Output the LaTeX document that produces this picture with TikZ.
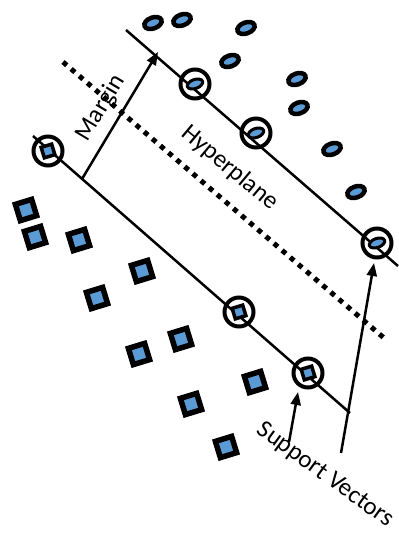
\documentclass[tikz,border=0pt]{standalone}
\usepackage{fontspec}
\setmainfont{Carlito}
\usetikzlibrary{arrows.meta,shapes.geometric}
\definecolor{ptblue}{HTML}{5B9BD5}
\tikzset{
  ell/.style={ellipse,draw=black,fill=ptblue,line width=4.5pt,minimum width=18pt,minimum height=11pt,inner sep=0pt,rotate=20},
  sell/.style={ellipse,draw=black,fill=ptblue,line width=3pt,minimum width=16pt,minimum height=9pt,inner sep=0pt,rotate=20},
  sq/.style={rectangle,draw=black,fill=ptblue,line width=5.5pt,minimum size=17pt,inner sep=0pt,rotate=17},
  ssq/.style={rectangle,draw=black,fill=ptblue,line width=3.5pt,minimum size=11pt,inner sep=0pt,rotate=17},
  ring/.style={circle,draw=black,line width=4pt,minimum size=29pt,inner sep=0pt},
  mline/.style={line width=2.5pt},
  hyper/.style={line width=5pt,dash pattern=on 5pt off 5.7pt},
  arr/.style={line width=2.5pt,-{Triangle[length=13pt,width=10pt]}},
  lbl/.style={font=\fontsize{25}{28}\selectfont,inner sep=0pt}
}
\begin{document}
\begin{tikzpicture}[x=1pt,y=-1pt]
\useasboundingbox (0,0) rectangle (398,534);
% lines
\coordinate (u1) at (126,30);
\coordinate (u2) at (398,266);
\coordinate (l1) at (33,136);
\coordinate (l2) at (350,413);
\coordinate (h1) at (63,62);
\coordinate (h2) at (384,338);
\draw[mline] (u1) -- (u2);
\draw[mline] (l1) -- (l2);
\draw[hyper] (h1) -- (h2);
% margin arrow
\coordinate (ma) at (82,179);
\coordinate (mb) at (158,52);
\draw[arr] (ma) -- (mb);
% ellipses
\node[ell] (e1) at (153,23) {};
\node[ell] (e2) at (182,20) {};
\node[ell] (e3) at (246,28) {};
\node[ell] (e4) at (230,61) {};
\node[ell] (e5) at (297,79) {};
\node[ell] (e6) at (299,108) {};
\node[ell] (e7) at (332,149) {};
\node[ell] (e8) at (356,192) {};
% circled ellipses
\node[sell] (se1) at (195,84) {};
\node[sell] (se2) at (256,133) {};
\node[sell] (se3) at (377,243) {};
\node[ring] (r1) at (195,84) {};
\node[ring] (r2) at (256,133) {};
\node[ring] (r3) at (377,243) {};
% squares
\node[sq] (s1) at (26,210) {};
\node[sq] (s2) at (35,237) {};
\node[sq] (s3) at (79,240) {};
\node[sq] (s4) at (142,271) {};
\node[sq] (s5) at (97,298) {};
\node[sq] (s6) at (181,339) {};
\node[sq] (s7) at (139,354) {};
\node[sq] (s8) at (255,382) {};
\node[sq] (s9) at (191,404) {};
\node[sq] (s10) at (226,447) {};
% circled squares
\node[ssq] (ss1) at (48,151) {};
\node[ssq] (ss2) at (239,312) {};
\node[ssq] (ss3) at (308,373) {};
\node[ring] (r4) at (48,151) {};
\node[ring] (r5) at (239,312) {};
\node[ring] (r6) at (308,373) {};
% support vector arrows
\coordinate (a1) at (289,442);
\coordinate (a1t) at (298,392);
\coordinate (a2) at (341,453);
\coordinate (a2t) at (374,263);
\draw[arr] (a1) -- (a1t);
\draw[arr] (a2) -- (a2t);
% labels
\node[lbl,rotate=59] (tm) at (101,108) {Margin};
\node[lbl,rotate=-40] (th) at (230,168) {Hyperplane};
\node[lbl,rotate=-36] (ts) at (325,475) {Support Vectors};
\end{tikzpicture}
\end{document}
